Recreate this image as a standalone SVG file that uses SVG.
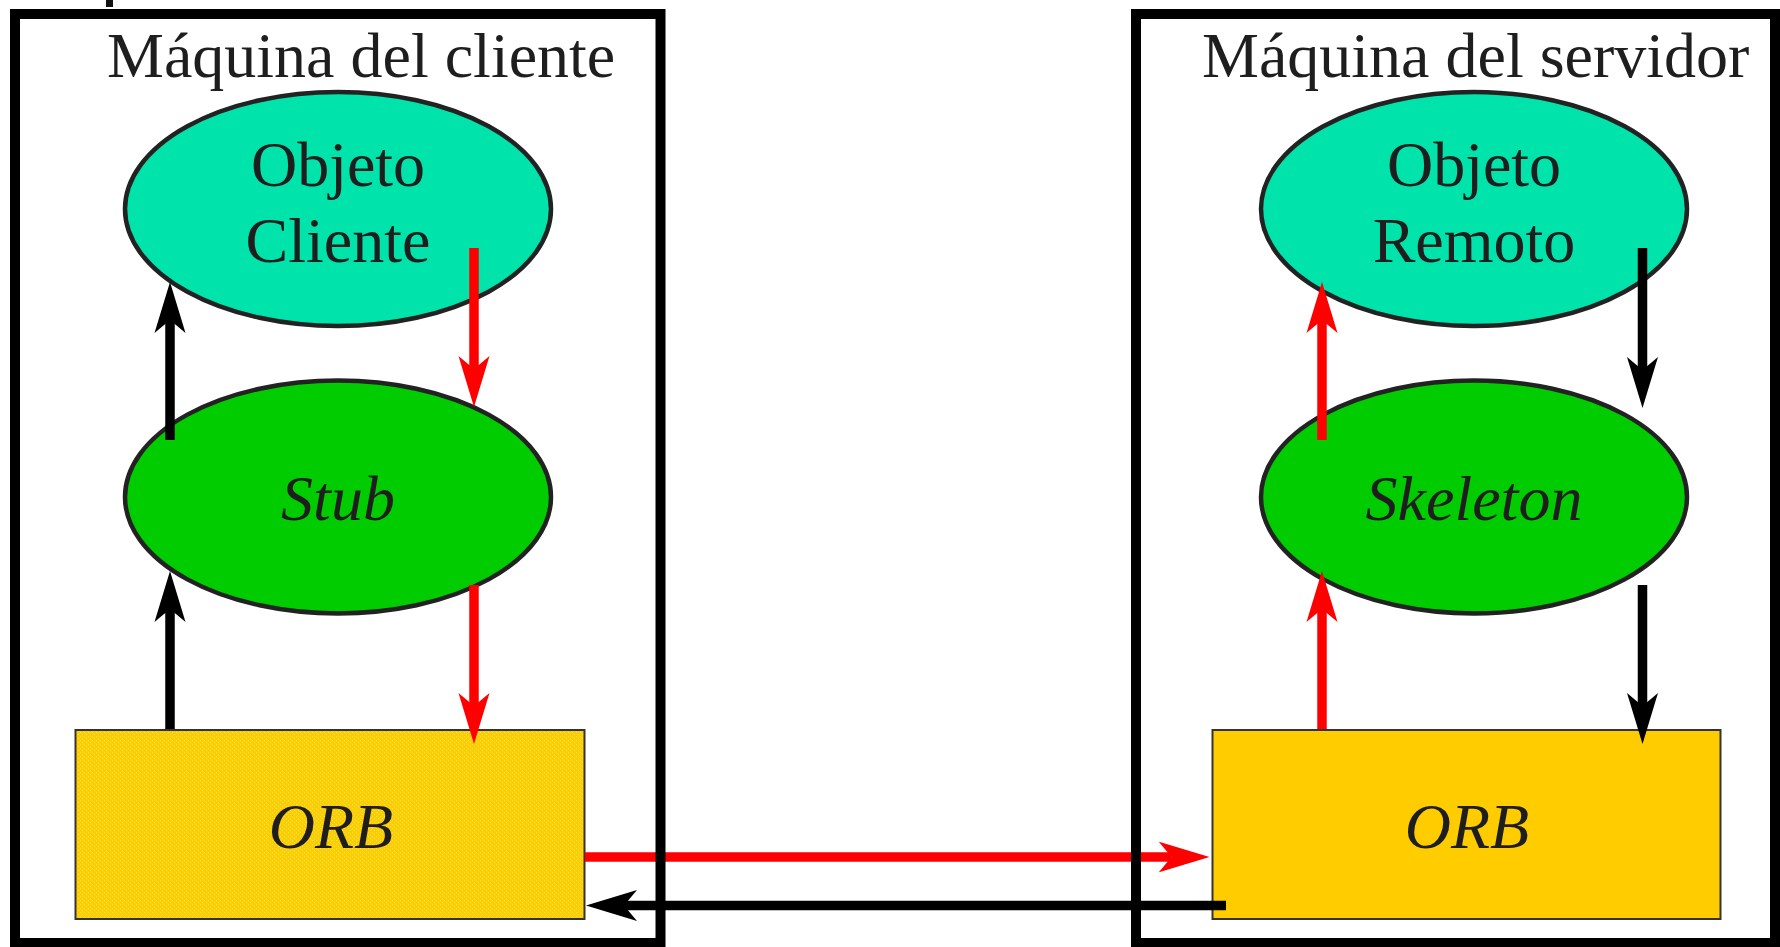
<svg xmlns="http://www.w3.org/2000/svg" width="1780" height="947" viewBox="0 0 1780 947">
<style>
.box{fill:none;stroke:#000;stroke-width:10}
.ell{stroke:#222;stroke-width:4.5}
.obj{fill:#00E3AA}
.mid{fill:#00CC00}
.orb{stroke:#333;stroke-width:2}
.t{font-family:"Liberation Serif","Times New Roman",serif;font-size:64px;fill:#1e1e1e}
.it{font-style:italic}
.blk{stroke:#000;stroke-width:9.5;fill:none}
.red{stroke:#FF0000;stroke-width:9.5;fill:none}
</style>
<defs>
<pattern id="dither" width="4" height="4" patternUnits="userSpaceOnUse">
<rect width="4" height="4" fill="#FFCC00"/>
<rect x="0" y="0" width="1" height="1" fill="#FFE060"/>
<rect x="2" y="2" width="1" height="1" fill="#FFE060"/>
</pattern>
<marker id="ab" markerUnits="userSpaceOnUse" viewBox="0 -16 52 32" markerWidth="52" markerHeight="32" refX="13" refY="0" orient="auto">
<path d="M51,0 L0,-15.5 L13,0 L0,15.5 Z" fill="#000"/>
</marker>
<marker id="ar" markerUnits="userSpaceOnUse" viewBox="0 -16 52 32" markerWidth="52" markerHeight="32" refX="13" refY="0" orient="auto">
<path d="M51,0 L0,-15.5 L13,0 L0,15.5 Z" fill="#FF0000"/>
</marker>
</defs>
<rect width="1780" height="947" fill="#fff"/>
<rect x="106" y="0" width="7" height="7" fill="#111"/>

<g id="client-machine">
<text class="t" x="107" y="77">Máquina del cliente</text>
</g>
<g id="server-machine">
<text class="t" x="1202" y="77">Máquina del servidor</text>
</g>

<g id="objeto-cliente">
<ellipse class="ell obj" cx="338" cy="209" rx="213" ry="117"/>
<text class="t" x="338" y="186" text-anchor="middle">Objeto</text>
<text class="t" x="338" y="262" text-anchor="middle">Cliente</text>
</g>
<g id="stub">
<ellipse class="ell mid" cx="338" cy="497" rx="213" ry="116.5"/>
<text class="t it" x="338" y="520" text-anchor="middle">Stub</text>
</g>
<g id="orb-cliente">
<rect class="orb" x="75.5" y="730" width="509" height="189" fill="url(#dither)"/>
<text class="t it" x="331" y="848" text-anchor="middle">ORB</text>
</g>

<g id="objeto-remoto">
<ellipse class="ell obj" cx="1474" cy="209" rx="213" ry="117"/>
<text class="t" x="1474" y="186" text-anchor="middle">Objeto</text>
<text class="t" x="1474" y="262" text-anchor="middle">Remoto</text>
</g>
<g id="skeleton">
<ellipse class="ell mid" cx="1474" cy="497" rx="213" ry="116.5"/>
<text class="t it" x="1474" y="520" text-anchor="middle">Skeleton</text>
</g>
<g id="orb-servidor">
<rect class="orb" x="1212.5" y="730" width="508" height="189" fill="#FFCC00"/>
<text class="t it" x="1467" y="848" text-anchor="middle">ORB</text>
</g>

<g id="connectors">
<line class="blk" x1="170" y1="440" x2="170" y2="320" marker-end="url(#ab)"/>
<line class="blk" x1="170" y1="729" x2="170" y2="609" marker-end="url(#ab)"/>
<line class="red" x1="474" y1="248" x2="474" y2="369" marker-end="url(#ar)"/>
<line class="red" x1="474" y1="585" x2="474" y2="706" marker-end="url(#ar)"/>
<line class="red" x1="1322" y1="440" x2="1322" y2="320" marker-end="url(#ar)"/>
<line class="red" x1="1322" y1="729" x2="1322" y2="609" marker-end="url(#ar)"/>
<line class="blk" x1="1642.5" y1="248" x2="1642.5" y2="370" marker-end="url(#ab)"/>
<line class="blk" x1="1642.5" y1="585" x2="1642.5" y2="706" marker-end="url(#ab)"/>
<line class="red" x1="585" y1="857" x2="1171.5" y2="857" marker-end="url(#ar)"/>
<line class="blk" x1="1226" y1="905.5" x2="624" y2="905.5" marker-end="url(#ab)"/>
</g>

<g id="machine-frames">
<rect class="box" x="15" y="14" width="645.5" height="929"/>
<rect class="box" x="1136" y="14" width="639" height="929"/>
</g>
</svg>
